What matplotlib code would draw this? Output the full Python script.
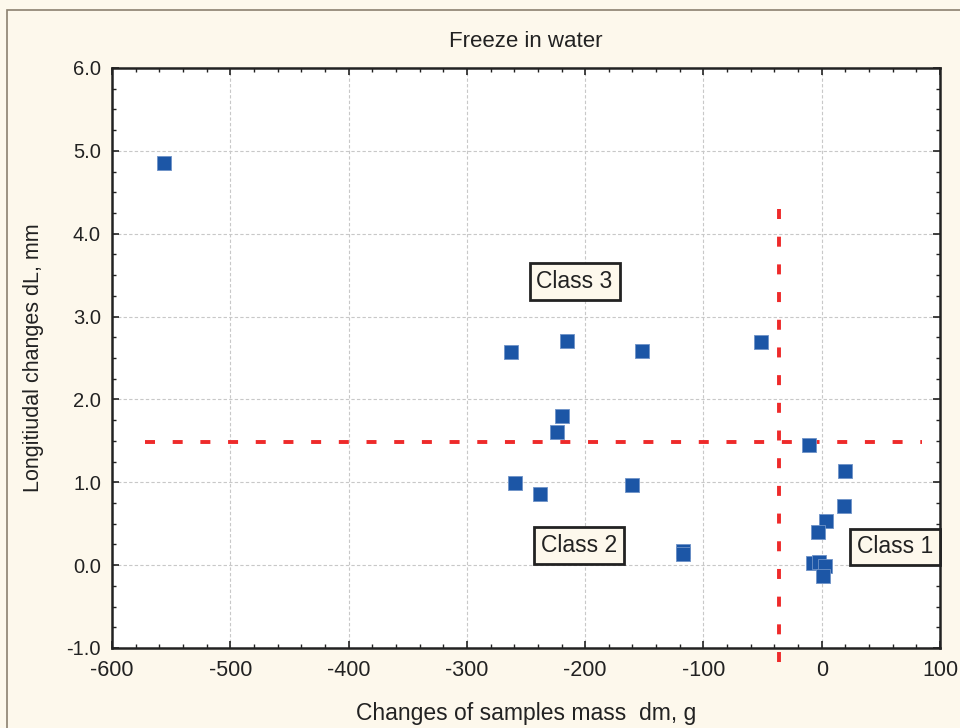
import matplotlib
matplotlib.use("Agg")
import matplotlib.pyplot as plt
from matplotlib.patches import Rectangle
from matplotlib.ticker import MultipleLocator, FormatStrFormatter

plt.rcParams['font.family'] = ['Liberation Sans', 'DejaVu Sans']

# measured points: mass change dm (g) vs length change dL (mm)
dm = [-556, -263, -215, -152, -51, -220, -224, -259, -238, -160,
      -117, -117, -11, 20, 19, 3.5, -3, -7, -2, 3, 1]
dL = [4.85, 2.57, 2.70, 2.58, 2.69, 1.80, 1.61, 0.99, 0.86, 0.97,
      0.17, 0.13, 1.45, 1.14, 0.71, 0.53, 0.40, 0.03, 0.04, -0.01, -0.13]

# class boundaries
dm_limit = -36
dL_limit = 1.49

class_names = ['Class 3', 'Class 2', 'Class 1']
class_x = [-209, -205, 62]
class_y = [3.42, 0.24, 0.22]

fig = plt.figure(figsize=(9.6, 7.28), dpi=100)
fig.patch.set_facecolor('#fdf8ec')
ax = fig.add_axes([0.1167, 0.1099, 0.8625, 0.7967])
ax.set_facecolor('white')

# outer frame of the graph window
fig.patches.append(Rectangle((7 / 960, -0.1), 1.2, 1 - 10 / 728 + 0.1,
                             transform=fig.transFigure, fill=False,
                             edgecolor='#8c8070', lw=1.2, zorder=0))

ax.set_xlim(-600, 100)
ax.set_ylim(-1.0, 6.0)
ax.xaxis.set_major_locator(MultipleLocator(100))
ax.xaxis.set_minor_locator(MultipleLocator(20))
ax.yaxis.set_major_locator(MultipleLocator(1.0))
ax.yaxis.set_minor_locator(MultipleLocator(0.25))
ax.yaxis.set_major_formatter(FormatStrFormatter('%.1f'))
ax.xaxis.set_major_formatter(FormatStrFormatter('%d'))
ax.tick_params(which='both', direction='in', top=True, right=True,
               colors='#222222')
ax.tick_params(axis='x', labelsize=15.5, pad=9)
ax.tick_params(axis='y', labelsize=14.5, pad=8)
ax.tick_params(which='major', length=5, width=1.2)
ax.tick_params(which='minor', length=3, width=1.0)
for s in ax.spines.values():
    s.set_linewidth(1.8)
    s.set_color('#222222')
ax.grid(True, which='major', color='#c8c8c8', ls=(0, (3, 2)), lw=0.8)

dash = (0, (2.57, 4.55))
ax.plot([-572, 85], [dL_limit, dL_limit], color='#ee2a2a', ls=dash,
        lw=2.8, zorder=2)
ax.plot([dm_limit, dm_limit], [4.3, -1.2], color='#ee2a2a', ls=dash,
        lw=2.8, zorder=2, clip_on=False)

ax.scatter(dm, dL, marker='s', s=100, color='#1c56a6', edgecolors='#6f93c8',
           linewidths=0.6, zorder=3)

for name, x, y in zip(class_names, class_x, class_y):
    ax.text(x, y, name, fontsize=16.5, ha='center', va='center', color='#222222',
            zorder=4, bbox=dict(boxstyle='square,pad=0.3', fc='#fdf8ec',
                                ec='#222222', lw=2))

ax.set_title('Freeze in water', fontsize=16, color='#222222', pad=15)
ax.set_xlabel('Changes of samples mass  dm, g', fontsize=16.5, color='#222222',
              labelpad=15)
ax.set_ylabel('Longitiudal changes dL, mm', fontsize=15.5, color='#222222',
              labelpad=16)

fig.savefig('out.png', dpi=100, facecolor=fig.get_facecolor())
